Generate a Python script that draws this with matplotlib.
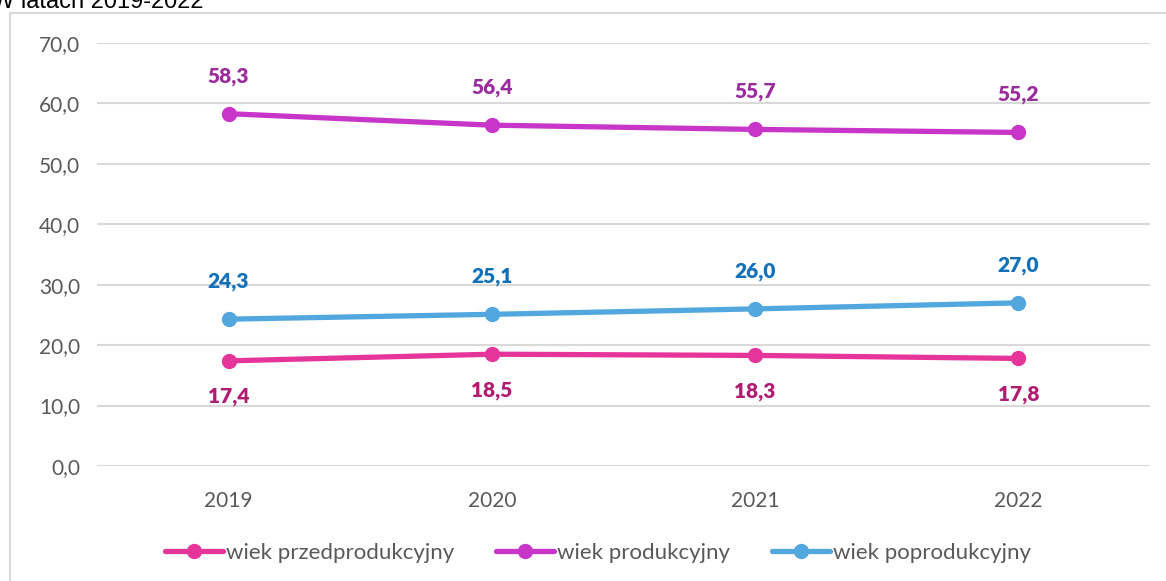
import matplotlib.pyplot as plt
from matplotlib.patches import Rectangle

years = ['2019', '2020', '2021', '2022']
przed = [17.4, 18.5, 18.3, 17.8]
prod = [58.3, 56.4, 55.7, 55.2]
poprod = [24.3, 25.1, 26.0, 27.0]

series = [
    ('wiek przedprodukcyjny', przed, '#E6359A', '#B01C72', -26),
    ('wiek produkcyjny', prod, '#C735C9', '#9B2C9E', 27),
    ('wiek poprodukcyjny', poprod, '#51A7DE', '#1170BA', 27),
]

plt.rcParams['font.family'] = ['Lato', 'DejaVu Sans']

fig = plt.figure(figsize=(11.66, 5.81), dpi=100)
ax = fig.add_axes([97 / 1166, 1 - 466 / 581, (1150 - 97) / 1166, (466 - 43) / 581])

x = range(len(years))
for name, vals, col, lcol, off in series:
    ax.plot(x, vals, color=col, lw=3.8, marker='o', ms=10, label=name,
            solid_capstyle='round')
    for xi, v in zip(x, vals):
        ax.annotate(f'{v:.1f}'.replace('.', ','), (xi, v), xytext=(0, off),
                    textcoords='offset points', ha='center', va='center',
                    fontsize=15, fontweight='heavy', color=lcol)

ax.set_xlim(-0.5, 3.5)
ax.set_ylim(0, 70)
ax.set_xticks(list(x))
ax.set_xticklabels(years)
ax.set_yticks(range(0, 71, 10))
ax.set_yticklabels([f'{t},0' for t in range(0, 71, 10)])
ax.tick_params(length=0, labelsize=15, labelcolor='#595959')
ax.tick_params(axis='y', pad=12)
ax.tick_params(axis='x', pad=18)
ax.grid(axis='y', color='#D9D9D9', lw=1.5)
ax.set_axisbelow(True)
for s in ax.spines.values():
    s.set_visible(False)

fig.legend(loc='center', bbox_to_anchor=(598 / 1166, 1 - 553 / 581), ncol=3,
           frameon=False, fontsize=16, handlelength=2.6, handletextpad=0.12,
           columnspacing=1.9, labelcolor='#595959')

# outer chart border (cut at the right and bottom edges)
fig.patches.append(Rectangle((10 / 1166, -0.1), 1.2, 1.1 - 13 / 581,
                             transform=fig.transFigure, fill=False,
                             edgecolor='#D9D9D9', lw=1.5))

fig.text(-8 / 1166, 1 - 8 / 581, 'W latach 2019-2022', fontsize=17,
         family='Liberation Sans', va='baseline', ha='left', color='black')

fig.savefig('out.png', dpi=100)
